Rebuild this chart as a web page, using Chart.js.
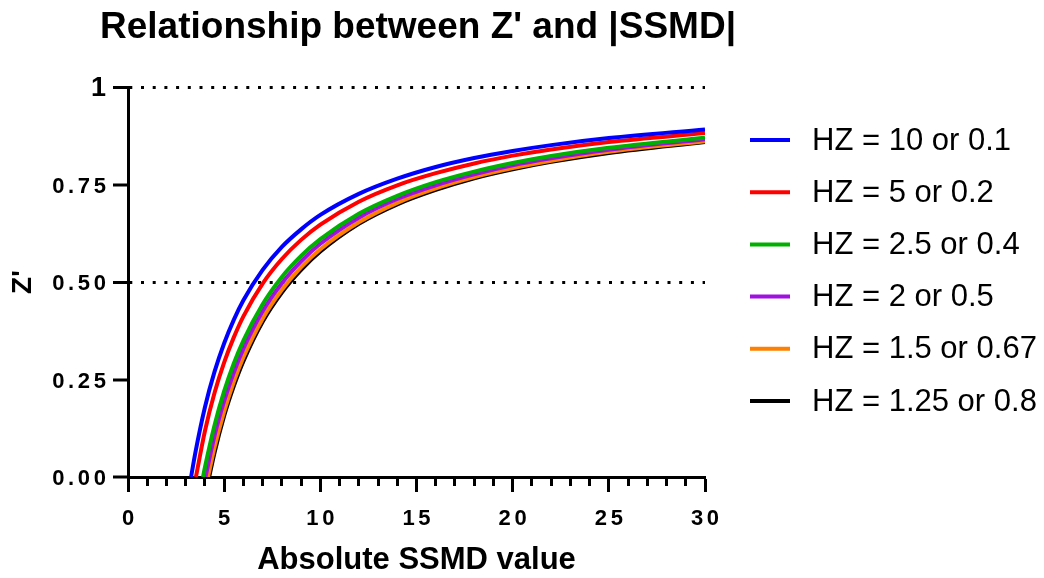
<!DOCTYPE html>
<html>
<head>
<meta charset="utf-8">
<script src="https://cdn.jsdelivr.net/npm/chart.js@4"></script>
<style>
  html, body { margin: 0; padding: 0; background: #fff; }
  #wrap { width: 1044px; height: 578px; position: relative; }
</style>
</head>
<body>
<div id="wrap"><canvas id="zChart"></canvas></div>
<script>
// |SSMD| positions where the curves are sampled
const ssmdX = [3.5, 4, 4.5, 5, 5.5, 6, 7, 8, 9, 10, 12, 14, 16, 18, 20, 22, 25, 30];
// where each curve leaves the x axis (Z' = 0)
const zeroCross = [3.28, 3.53, 3.90, 4.03, 4.16, 4.22];

const seriesLabels = ['HZ = 10 or 0.1', 'HZ = 5 or 0.2', 'HZ = 2.5 or 0.4', 'HZ = 2 or 0.5', 'HZ = 1.5 or 0.67', 'HZ = 1.25 or 0.8'];
const seriesColors = ['#0000ff', '#ff0000', '#00b000', '#a010e0', '#ff8000', '#000000'];

const zHZ10  = [0.062, 0.179, 0.270, 0.343, 0.403, 0.453, 0.531, 0.590, 0.635, 0.672, 0.726, 0.765, 0.795, 0.818, 0.836, 0.851, 0.869, 0.891];
const zHZ5   = [null, 0.118, 0.216, 0.294, 0.358, 0.412, 0.496, 0.559, 0.608, 0.647, 0.706, 0.748, 0.779, 0.804, 0.824, 0.840, 0.859, 0.882];
const zHZ25  = [null, 0.025, 0.133, 0.220, 0.291, 0.350, 0.443, 0.513, 0.567, 0.610, 0.675, 0.721, 0.756, 0.783, 0.805, 0.823, 0.844, 0.870];
const zHZ2   = [null, null, 0.106, 0.195, 0.268, 0.329, 0.425, 0.497, 0.553, 0.598, 0.665, 0.713, 0.748, 0.776, 0.799, 0.817, 0.839, 0.866];
const zHZ15  = [null, null, 0.076, 0.168, 0.244, 0.307, 0.406, 0.480, 0.538, 0.584, 0.653, 0.703, 0.740, 0.769, 0.792, 0.811, 0.834, 0.861];
const zHZ125 = [null, null, 0.063, 0.157, 0.233, 0.297, 0.398, 0.473, 0.531, 0.578, 0.649, 0.699, 0.736, 0.766, 0.789, 0.808, 0.831, 0.859];

const yTickLabels = { 0: '0.00', 0.25: '0.25', 0.5: '0.50', 0.75: '0.75', 1: '1' };
const xTickLabels = { 0: '0', 5: '5', 10: '10', 15: '15', 20: '20', 25: '25', 30: '30' };

const FONT = "'Liberation Sans', Arial, sans-serif";

// tick labels in the original are drawn with slightly loose letter spacing
function spaced(s) {
    return s.length > 1 ? s.split('').join('\u2006') : s;
}

function buildPoints(root, ys) {
    const pts = [{ x: root, y: 0 }];
    ys.forEach((y, i) => {
        if (y !== null) pts.push({ x: ssmdX[i], y: y });
    });
    return pts;
}

const allSeries = [zHZ10, zHZ5, zHZ25, zHZ2, zHZ15, zHZ125];
const datasets = allSeries.map((ys, i) => ({
    label: seriesLabels[i],
    data: buildPoints(zeroCross[i], ys),
    borderColor: seriesColors[i],
    backgroundColor: seriesColors[i],
    borderWidth: 4,
    pointRadius: 0,
    cubicInterpolationMode: 'monotone',
    fill: false
}));

// legend drawn on the right, line sample + text
const sideLegend = {
    id: 'sideLegend',
    afterDraw(chart) {
        const ctx = chart.ctx;
        ctx.save();
        ctx.font = '31px ' + FONT;
        ctx.textBaseline = 'middle';
        ctx.textAlign = 'left';
        chart.data.datasets.forEach((ds, i) => {
            const y = 140 + i * 52.2;
            ctx.strokeStyle = ds.borderColor;
            ctx.lineWidth = 4;
            ctx.beginPath();
            ctx.moveTo(750, y);
            ctx.lineTo(790, y);
            ctx.stroke();
            ctx.fillStyle = '#000';
            ctx.fillText(ds.label, 812, y + 1);
        });
        ctx.restore();
    }
};

const ctx = document.getElementById('zChart').getContext('2d');
new Chart(ctx, {
    type: 'line',
    data: { datasets: datasets },
    options: {
        responsive: true,
        maintainAspectRatio: false,
        animation: false,
        layout: { padding: { left: 0, right: 208, top: 0, bottom: 0 } },
        plugins: {
            legend: { display: false },
            tooltip: { enabled: false },
            title: {
                display: true,
                text: "Relationship between Z' and |SSMD|",
                color: '#000',
                font: { family: FONT, size: 37, weight: 'bold', lineHeight: 1.2 },
                padding: { top: 6, bottom: 36.6 }
            }
        },
        scales: {
            x: {
                type: 'linear',
                min: 0,
                max: 30,
                afterFit(scale) { scale.height = 101; },
                border: { display: true, color: '#000', width: 3 },
                grid: {
                    drawOnChartArea: false,
                    drawTicks: true,
                    tickLength: 15,
                    tickWidth: 3,
                    tickColor: '#000',
                    tickBorderDash: (c) => (c.tick && c.tick.value % 5 === 0) ? [] : [7, 60]
                },
                ticks: {
                    stepSize: 1,
                    autoSkip: false,
                    maxRotation: 0,
                    padding: 14,
                    color: '#000',
                    font: { family: FONT, size: 22, weight: 'bold' },
                    callback: (v) => xTickLabels[v] !== undefined ? spaced(xTickLabels[v]) : ''
                },
                title: {
                    display: true,
                    text: 'Absolute SSMD value',
                    color: '#000',
                    font: { family: FONT, size: 31, weight: 'bold', lineHeight: 1.0 },
                    padding: { top: 0, bottom: 2 }
                }
            },
            y: {
                type: 'linear',
                min: 0,
                max: 1,
                afterFit(scale) { scale.width = 128; },
                border: { display: true, color: '#000', width: 3, dash: [3, 8.7], dashOffset: -11 },
                grid: {
                    color: '#000',
                    lineWidth: (c) => (c.tick && (c.tick.value === 0.5 || c.tick.value === 1)) ? 3 : 0,
                    drawTicks: true,
                    tickLength: 15,
                    tickWidth: 3,
                    tickColor: '#000',
                    tickBorderDash: []
                },
                ticks: {
                    stepSize: 0.25,
                    padding: 7,
                    labelOffset: 2,
                    color: '#000',
                    font: (c) => ({ family: FONT, size: (c.tick && c.tick.value === 1) ? 27 : 22, weight: 'bold' }),
                    callback: (v) => yTickLabels[v] !== undefined ? spaced(yTickLabels[v]) : ''
                },
                title: {
                    display: true,
                    text: "Z'",
                    color: '#000',
                    font: { family: FONT, size: 28, weight: 'bold', lineHeight: 1.2 },
                    padding: { top: 6, bottom: 0 }
                }
            },
            // empty box on the right so the plot ends where the original does
            yRight: {
                type: 'linear',
                position: 'right',
                display: true,
                afterFit(scale) { scale.width = 131; },
                border: { display: false },
                grid: { display: false, drawTicks: false },
                ticks: { display: false }
            }
        }
    },
    plugins: [sideLegend]
});
</script>
</body>
</html>
